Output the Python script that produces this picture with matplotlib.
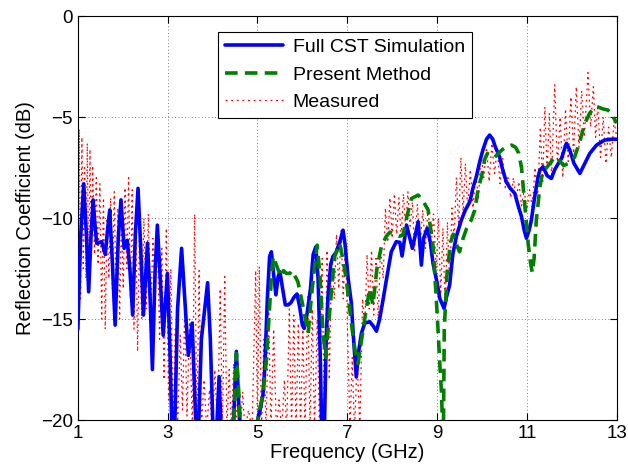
import matplotlib
matplotlib.use("Agg")
import matplotlib.pyplot as plt

plt.rcParams['font.family'] = ['Liberation Sans', 'DejaVu Sans']

# Full CST simulation (blue); values below -20 dB leave the axes
cst_f = [1.00, 1.06, 1.13, 1.19, 1.24, 1.29, 1.34, 1.38, 1.42, 1.53, 1.61, 1.66, 1.71,
         1.77, 1.83, 1.90, 1.96, 2.03, 2.10, 2.16, 2.22, 2.28, 2.34, 2.40, 2.46, 2.55,
         2.61, 2.66, 2.72, 2.77, 2.84, 2.90, 2.995, 3.05, 3.10, 3.15, 3.22, 3.31, 3.38,
         3.46, 3.545, 3.60, 3.64, 3.68, 3.75, 3.89, 3.95, 4.01, 4.06, 4.10, 4.145, 4.19,
         4.25, 4.40, 4.46, 4.53, 4.60, 4.65, 4.90, 4.98, 5.05, 5.12, 5.16, 5.22, 5.27,
         5.31, 5.36, 5.41, 5.46, 5.50, 5.56, 5.62, 5.68, 5.74, 5.82, 5.88, 5.94, 6.00,
         6.04, 6.10, 6.18, 6.24, 6.30, 6.35, 6.40, 6.43, 6.46, 6.49, 6.53, 6.57, 6.63,
         6.68, 6.75, 6.83, 6.905, 6.95, 7.02, 7.09, 7.14, 7.20, 7.26, 7.315, 7.39, 7.50,
         7.58, 7.65, 7.72, 7.80, 7.87, 7.98, 8.09, 8.17, 8.22, 8.32, 8.45, 8.58, 8.65,
         8.70, 8.78, 8.85, 8.91, 9.00, 9.06, 9.155, 9.21, 9.28, 9.35, 9.43, 9.54, 9.63,
         9.73, 9.80, 9.875, 9.95, 10.02, 10.10, 10.17, 10.24, 10.30, 10.39, 10.46, 10.54,
         10.62, 10.73, 10.82, 10.88, 10.94, 10.99, 11.05, 11.10, 11.17, 11.25, 11.29,
         11.36, 11.45, 11.545, 11.62, 11.70, 11.77, 11.88, 11.95, 12.05, 12.18, 12.29,
         12.40, 12.55, 12.73, 12.92, 13.00]
cst_db = [-15.5, -11.0, -8.3, -10.8, -13.65, -11.0, -9.1, -10.3, -11.25, -11.17, -11.8,
          -10.6, -9.6, -12.3, -15.3, -11.0, -9.1, -11.5, -11.1, -12.6, -14.8, -10.8, -8.53,
          -11.5, -14.8, -11.25, -14.0, -17.5, -12.6, -10.35, -13.2, -15.8, -12.74, -16.5,
          -21.0, -21.0, -14.5, -11.5, -14.0, -16.8, -15.2, -18.5, -21.0, -21.0, -16.0,
          -13.2, -16.0, -20.5, -21.0, -20.0, -17.85, -20.5, -22.0, -22.0, -20.5, -16.6,
          -20.0, -22.0, -22.0, -20.2, -19.6, -18.8, -17.5, -14.0, -11.9, -11.67, -12.8,
          -13.8, -12.9, -12.66, -13.5, -14.3, -14.3, -14.2, -13.9, -13.76, -14.4, -15.3,
          -15.46, -14.8, -13.5, -11.8, -11.42, -13.0, -17.0, -20.5, -22.0, -20.5, -16.0,
          -13.9, -12.3, -11.9, -11.7, -11.2, -10.6, -11.3, -13.0, -14.2, -16.0, -17.86,
          -16.5, -15.7, -15.2, -15.13, -15.35, -15.6, -15.0, -14.0, -13.07, -11.67, -11.17,
          -11.2, -11.88, -10.35, -11.5, -10.18, -12.33, -11.0, -10.5, -11.2, -12.25, -13.2,
          -13.98, -14.47, -13.9, -13.3, -11.8, -10.9, -10.1, -9.6, -9.19, -8.5, -7.95,
          -7.2, -6.63, -6.1, -5.89, -6.1, -6.5, -6.96, -7.6, -8.2, -8.5, -8.78, -9.5,
          -9.93, -10.6, -11.0, -10.6, -10.1, -9.0, -7.95, -7.62, -7.46, -7.9, -8.04, -7.6,
          -7.3, -7.05, -6.3, -6.6, -7.3, -7.79, -7.29, -6.8, -6.39, -6.14, -6.09, -6.1]

# present method (green dashed)
pm_f = [4.40, 4.47, 4.53, 4.58, 4.63, 4.68, 4.95, 5.01, 5.12, 5.20, 5.27, 5.31, 5.35,
        5.40, 5.45, 5.52, 5.58, 5.645, 5.72, 5.77, 5.90, 5.98, 6.06, 6.13, 6.20, 6.28,
        6.33, 6.39, 6.46, 6.52, 6.61, 6.72, 6.83, 6.90, 6.98, 7.09, 7.17, 7.24, 7.32,
        7.43, 7.50, 7.57, 7.66, 7.76, 7.87, 7.95, 8.05, 8.15, 8.24, 8.33, 8.43, 8.58,
        8.70, 8.80, 8.91, 8.98, 9.02, 9.06, 9.10, 9.12, 9.14, 9.16, 9.22, 9.30, 9.36,
        9.43, 9.50, 9.58, 9.66, 9.76, 9.84, 9.92, 9.99, 10.06, 10.12, 10.20, 10.28,
        10.36, 10.46, 10.56, 10.66, 10.75, 10.82, 10.88, 10.95, 11.03, 11.08, 11.12,
        11.16, 11.21, 11.29, 11.36, 11.44, 11.51, 11.58, 11.655, 11.74, 11.82, 11.92,
        12.06, 12.18, 12.29, 12.40, 12.50, 12.58, 12.70, 12.80, 12.88, 12.95, 13.00]
pm_db = [-22.0, -20.3, -16.7, -18.5, -20.5, -22.0, -22.0, -19.9, -18.7, -17.0, -14.4,
         -12.9, -11.9, -12.2, -12.5, -12.9, -12.6, -12.74, -12.74, -12.6, -13.15, -14.0,
         -14.9, -15.7, -13.9, -12.25, -11.34, -12.8, -15.7, -16.9, -14.55, -11.9, -11.25,
         -12.0, -13.07, -15.2, -16.5, -17.2, -16.0, -14.4, -13.5, -14.3, -12.5, -11.4,
         -10.9, -10.7, -10.8, -10.9, -10.84, -9.9, -9.03, -8.86, -9.2, -9.6, -11.4, -13.9,
         -15.5, -17.2, -18.7, -20.3, -21.0, -15.5, -12.8, -11.2, -10.8, -11.3, -11.67,
         -11.0, -10.5, -10.1, -9.6, -8.5, -7.95, -7.1, -6.8, -6.9, -7.0, -6.8, -6.6, -6.45,
         -6.39, -6.5, -6.8, -7.5, -9.27, -11.3, -12.2, -12.7, -12.0, -10.1, -8.45, -7.62,
         -7.5, -7.3, -7.1, -6.96, -7.2, -7.4, -7.3, -7.0, -6.2, -5.31, -4.8, -4.55, -4.5,
         -4.6, -4.65, -4.8, -5.1, -5.3]

# measured (red dotted), read peak by peak
meas_f = [1.00, 1.03, 1.06, 1.09, 1.12, 1.15, 1.18, 1.21, 1.24, 1.27, 1.30, 1.33, 1.37,
          1.41, 1.45, 1.49, 1.53, 1.57, 1.61, 1.65, 1.69, 1.73, 1.77, 1.81, 1.85, 1.89,
          1.93, 1.97, 2.01, 2.05, 2.09, 2.13, 2.17, 2.21, 2.25, 2.29, 2.33, 2.37, 2.42,
          2.47, 2.52, 2.57, 2.62, 2.67, 2.72, 2.77, 2.82, 2.87, 2.92, 2.97, 3.02, 3.07,
          3.12, 3.17, 3.22, 3.28, 3.33, 3.38, 3.43, 3.49, 3.55, 3.60, 3.65, 3.70, 3.75,
          3.81, 3.87, 3.93, 3.99, 4.05, 4.11, 4.17, 4.22, 4.27, 4.32, 4.37, 4.42, 4.47,
          4.52, 4.57, 4.62, 4.67, 4.72, 4.80, 4.88, 4.96, 5.00, 5.04, 5.09, 5.14, 5.19,
          5.25, 5.30, 5.36, 5.42, 5.48, 5.54, 5.60, 5.65, 5.71, 5.76, 5.81, 5.86, 5.91,
          5.96, 6.01, 6.06, 6.12, 6.17, 6.22, 6.27, 6.33, 6.38, 6.44, 6.49, 6.55, 6.60,
          6.65, 6.71, 6.76, 6.81, 6.86, 6.91, 6.96, 7.01, 7.06, 7.11, 7.16, 7.22, 7.28,
          7.34, 7.39, 7.44, 7.49, 7.54, 7.59, 7.64, 7.69, 7.74, 7.80, 7.85, 7.90, 7.95,
          8.00, 8.05, 8.10, 8.15, 8.20, 8.25, 8.30, 8.35, 8.40, 8.45, 8.50, 8.56, 8.62,
          8.68, 8.74, 8.80, 8.86, 8.92, 8.98, 9.03, 9.08, 9.13, 9.18, 9.23, 9.28, 9.33,
          9.38, 9.43, 9.48, 9.53, 9.58, 9.63, 9.68, 9.74, 9.80, 9.86, 9.92, 9.98, 10.04,
          10.10, 10.16, 10.22, 10.28, 10.34, 10.40, 10.46, 10.52, 10.58, 10.64, 10.70,
          10.76, 10.82, 10.88, 10.94, 11.00, 11.06, 11.12, 11.18, 11.24, 11.30, 11.35,
          11.40, 11.45, 11.50, 11.55, 11.62, 11.68, 11.74, 11.80, 11.86, 11.92, 11.98,
          12.04, 12.10, 12.16, 12.22, 12.28, 12.36, 12.42, 12.48, 12.53, 12.58, 12.64,
          12.70, 12.76, 12.82, 12.88, 12.94, 13.00]
meas_db = [-19.5, -5.6, -14.0, -6.0, -12.5, -7.5, -13.0, -6.3, -12.7, -6.6, -12.0, -7.4,
           -11.8, -8.0, -12.3, -8.3, -15.0, -9.0, -15.5, -10.0, -13.0, -9.0, -13.5, -8.7,
           -14.0, -9.5, -15.0, -10.0, -13.5, -8.5, -12.5, -8.0, -14.0, -8.6, -15.5, -10.0,
           -16.6, -11.0, -15.0, -10.0, -14.5, -9.8, -15.3, -11.0, -14.0, -10.8, -16.0,
           -11.5, -18.0, -10.5, -19.0, -12.5, -20.5, -15.5, -20.5, -15.8, -19.5, -14.4,
           -19.8, -15.0, -20.5, -9.8, -20.5, -12.6, -20.5, -18.0, -20.5, -18.5, -20.5,
           -17.5, -20.5, -13.5, -20.5, -12.9, -20.5, -17.5, -20.5, -17.2, -20.5, -17.8,
           -20.5, -18.6, -20.5, -19.5, -20.5, -12.6, -20.5, -12.4, -20.5, -16.0, -20.5,
           -14.6, -20.5, -15.5, -20.5, -19.0, -20.5, -18.0, -20.5, -14.5, -20.5, -14.8,
           -20.5, -15.2, -20.5, -15.5, -20.5, -13.9, -20.5, -14.5, -20.5, -15.0, -20.5,
           -12.0, -20.5, -11.6, -18.0, -12.0, -14.0, -10.8, -13.5, -10.6, -14.0, -11.0,
           -16.0, -20.5, -16.9, -20.5, -17.0, -20.5, -14.0, -15.4, -11.8, -14.5, -11.6,
           -14.8, -12.0, -15.0, -11.5, -13.0, -9.5, -11.2, -9.0, -11.0, -8.8, -10.8, -9.0,
           -11.0, -8.8, -10.5, -8.7, -10.4, -9.2, -11.6, -9.3, -11.4, -9.6, -11.5, -9.4,
           -11.6, -9.8, -12.5, -10.0, -13.8, -10.5, -14.6, -10.2, -13.5, -9.5, -11.0, -8.0,
           -10.5, -7.0, -9.8, -7.3, -9.5, -7.6, -9.5, -7.8, -9.0, -6.8, -8.0, -6.5, -8.2,
           -6.3, -7.8, -6.5, -8.3, -7.0, -8.5, -8.0, -9.0, -8.0, -9.1, -8.2, -9.4, -8.6,
           -9.6, -8.6, -9.5, -7.5, -9.0, -5.5, -8.3, -4.5, -7.8, -4.8, -8.0, -3.4, -7.5,
           -5.0, -8.0, -4.6, -7.2, -4.0, -6.8, -3.5, -6.5, -3.7, -6.0, -2.8, -5.5, -3.5,
           -6.0, -4.4, -7.0, -5.0, -7.3, -5.5, -7.0, -5.2, -6.0]

x_ticks = [1, 3, 5, 7, 9, 11, 13]
y_ticks = [-20, -15, -10, -5, 0]

fig = plt.figure(figsize=(6.28, 4.72), dpi=100)
ax = fig.add_axes([0.124, 0.110, 0.858, 0.856])

ax.plot(cst_f, cst_db, color=(0, 0, 1), lw=2.6, label="Full CST Simulation", zorder=3,
        solid_joinstyle="round", solid_capstyle="round")
ax.plot(pm_f, pm_db, color=(0, 0.5, 0), lw=2.6, linestyle=(0, (3.5, 2)),
        label="Present Method", zorder=4)
ax.plot(meas_f, meas_db, color=(1, 0, 0), lw=0.9, linestyle=(0, (1.5, 3)),
        label="Measured", zorder=2)

ax.set_xlim(1, 13)
ax.set_ylim(-20, 0)
ax.set_xticks(x_ticks)
ax.set_yticks(y_ticks)
ax.tick_params(direction="in", top=True, right=True, labelsize=13.5, length=5)
ax.grid(True, linestyle=(0, (1, 3)), color="0.3", linewidth=0.6)
ax.set_xlabel("Frequency (GHz)", fontsize=14.5, labelpad=1)
ax.set_ylabel("Reflection Coefficient (dB)", fontsize=14.5, labelpad=4)

leg = ax.legend(loc="upper left", bbox_to_anchor=(0.260, 0.961), fontsize=14,
                handlelength=3.0, handletextpad=0.5, fancybox=False, framealpha=1,
                borderpad=0.35, labelspacing=0.5, borderaxespad=0)
leg.get_frame().set_edgecolor("black")
leg.get_frame().set_linewidth(0.8)

fig.savefig("out.png", dpi=100)
